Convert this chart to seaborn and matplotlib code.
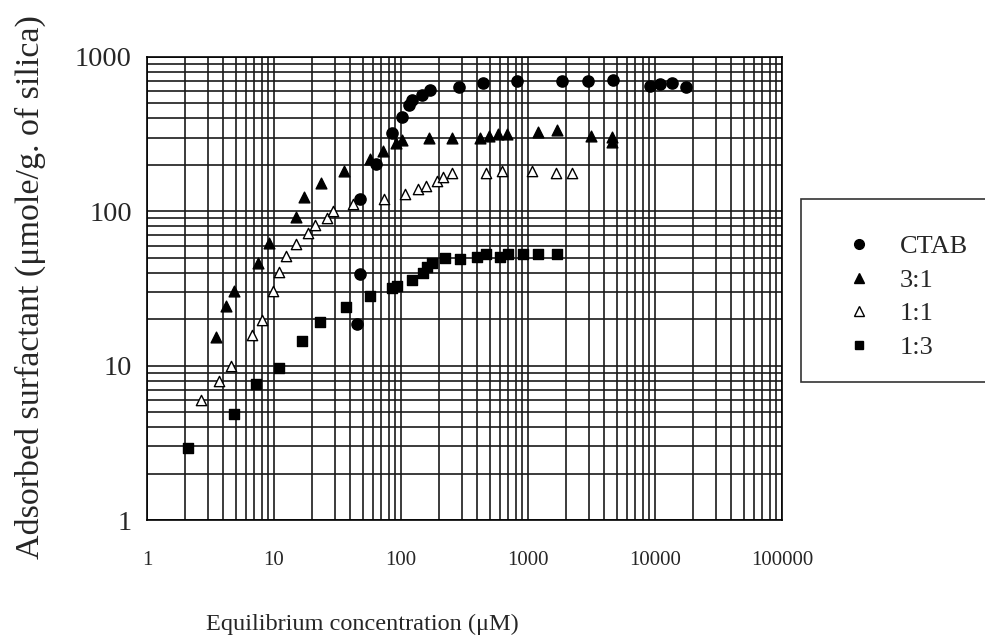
import seaborn as sns
import pandas as pd
import matplotlib.pyplot as plt
import numpy as np
from matplotlib.lines import Line2D
from matplotlib.patches import Rectangle
from matplotlib.ticker import LogLocator, FixedLocator, NullFormatter

# values
ctab_x = [45.3, 47.5, 47.5, 63, 85, 102, 116, 123, 146, 169, 286, 440, 815, 1840, 2950, 4640, 9140, 10940, 13680, 17540]
ctab_y = [18.5, 39, 121, 202, 324, 406, 488, 526, 567, 611, 642, 681, 702, 702, 702, 709, 651, 665, 675, 642]

r31_x = [3.5, 4.2, 4.8, 7.5, 9.2, 14.9, 17.3, 23.4, 35.6, 57, 72, 92, 102, 166, 250, 419, 496, 584, 680, 1190, 1680, 3130, 4560, 4600]
r31_y = [15.3, 24.5, 30.4, 46, 62, 92, 124, 153, 183, 218, 246, 279, 289, 297, 300, 300, 308, 315, 315, 327, 336, 307, 303, 283]

r11_x = [2.65, 3.7, 4.6, 6.7, 8.1, 9.9, 11.0, 12.4, 14.9, 18.6, 21.0, 26.0, 29.3, 42, 73, 107, 135, 157, 191, 213, 254, 464, 621, 1080, 1660, 2210]
r11_y = [6.0, 8.0, 10.0, 15.9, 19.9, 30.4, 40.4, 51, 61, 72, 82, 91, 101, 111, 120, 130, 139, 147, 157, 167, 176, 178, 182, 182, 178, 178]

r13_x = [2.1, 4.8, 7.2, 11.0, 16.7, 23.0, 37, 57, 85, 93, 121, 148, 161, 176, 222, 291, 399, 464, 602, 700, 919, 1190, 1680]
r13_y = [2.92, 4.86, 7.6, 9.7, 14.4, 19.3, 23.9, 28.2, 32, 33, 36, 40, 43.5, 46.5, 50, 49, 50.5, 52.6, 50.5, 52.6, 53.1, 52.6, 53]

x_ticks = [1, 10, 100, 1000, 10000, 100000]
y_ticks = [1, 10, 100, 1000]

sns.set_style("white")
plt.rcParams['font.family'] = ['Liberation Serif', 'DejaVu Serif']

fig = plt.figure(figsize=(9.85, 6.39), dpi=100)
ax = fig.add_axes([147/985, 119/639, 635/985, 463/639])

series = [
    ("CTAB", ctab_x, ctab_y, "o", "black", 65),
    ("3:1", r31_x, r31_y, "^", "black", 60),
    ("1:1", r11_x, r11_y, "^", "white", 55),
    ("1:3", r13_x, r13_y, "s", "black", 45),
]
for name, xs, ys, mk, fc, sz in series:
    df = pd.DataFrame({"x": xs, "y": ys})
    sns.scatterplot(data=df, x="x", y="y", ax=ax, marker=mk, s=sz,
                    facecolor=fc, edgecolor="black", linewidth=1.0, zorder=3)

ax.set_xscale("log")
ax.set_yscale("log")
ax.set_xlim(1, 100000)
ax.set_ylim(1, 1000)

ax.xaxis.set_major_locator(FixedLocator(x_ticks))
ax.yaxis.set_major_locator(FixedLocator(y_ticks))
ax.set_xticklabels([str(t) for t in x_ticks], fontsize=15)
ax.set_yticklabels([str(t) for t in y_ticks], fontsize=20.5)
ax.xaxis.set_minor_locator(LogLocator(base=10, subs=np.arange(2, 10)))
ax.yaxis.set_minor_locator(LogLocator(base=10, subs=np.arange(2, 10)))
ax.xaxis.set_minor_formatter(NullFormatter())
ax.yaxis.set_minor_formatter(NullFormatter())

ax.grid(True, which="both", color="#1a1a1a", linewidth=1.2)
ax.tick_params(which="major", direction="inout", length=10, width=1, color="black")
ax.tick_params(axis="x", which="major", pad=17)
ax.tick_params(axis="y", which="major", pad=6)
ax.tick_params(which="minor", direction="in", length=5, width=1, color="black")
for sp in ax.spines.values():
    sp.set_color("black")
    sp.set_linewidth(1.2)

ax.set_xlabel("Equilibrium concentration (\u03bcM)", fontsize=17.5)
ax.xaxis.set_label_coords((362 - 147) / 635, (520 - 614) / 463)
ax.set_ylabel("Adsorbed surfactant (\u03bcmole/g. of silica)", fontsize=24.5)
ax.yaxis.set_label_coords((46 - 147) / 635, (520 - 287) / 463)

# legend box running off the right edge
fig.patches.append(Rectangle((801/985, (639-382)/639), 0.25, 183/639,
                             transform=fig.transFigure, facecolor="white",
                             edgecolor="#333333", linewidth=1.2))
handles = [
    Line2D([], [], linestyle="none", marker="o", markersize=7, markerfacecolor="black", markeredgecolor="black"),
    Line2D([], [], linestyle="none", marker="^", markersize=7, markerfacecolor="black", markeredgecolor="black"),
    Line2D([], [], linestyle="none", marker="^", markersize=7, markerfacecolor="white", markeredgecolor="black"),
    Line2D([], [], linestyle="none", marker="s", markersize=6, markerfacecolor="black", markeredgecolor="black"),
]
fig.legend(handles, ["CTAB", "3:1", "1:1", "1:3"], loc="center left",
           bbox_to_anchor=(822/985, (639-297)/639), frameon=False, borderaxespad=0,
           fontsize=19, handletextpad=0.55, labelspacing=0.38)

fig.savefig("out.png", dpi=100)
